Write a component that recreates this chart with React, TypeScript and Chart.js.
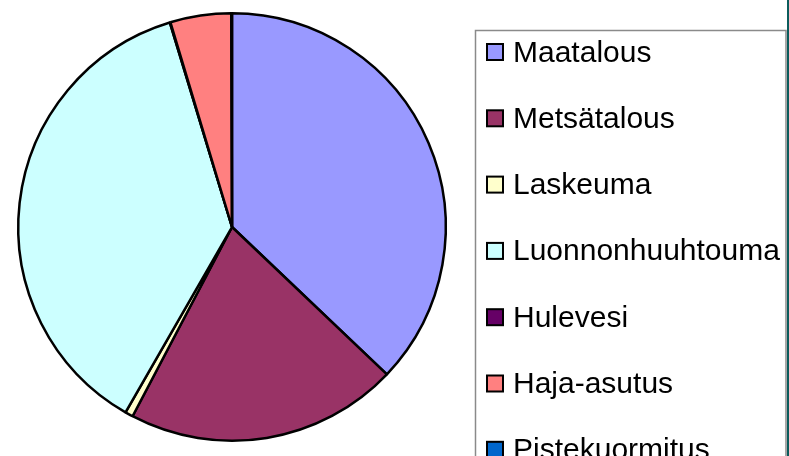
import React, { useEffect, useRef } from "react";
import { Chart, registerables } from "chart.js";

Chart.register(...registerables);

const categories = [
  "Maatalous",
  "Metsätalous",
  "Laskeuma",
  "Luonnonhuuhtouma",
  "Hulevesi",
  "Haja-asutus",
  "Pistekuormitus",
];
const shares = [37.1, 20.6, 0.6, 37.0, 0.05, 4.6, 0.05];
const colors = ["#9999FF", "#993366", "#FFFFCC", "#CCFFFF", "#660066", "#FF8080", "#0066CC"];

const legendPlugin = {
  id: "boxLegend",
  afterDraw(chart: any) {
    const ctx = chart.ctx as CanvasRenderingContext2D;
    const labels = chart.data.labels as string[];
    const bg = chart.data.datasets[0].backgroundColor as string[];
    ctx.save();
    ctx.strokeStyle = "#8a8a8a";
    ctx.lineWidth = 1.5;
    ctx.beginPath();
    ctx.moveTo(475.5, 470);
    ctx.lineTo(475.5, 30.5);
    ctx.lineTo(786, 30.5);
    ctx.lineTo(786, 470);
    ctx.stroke();
    ctx.strokeStyle = "#0b5c5c";
    ctx.lineWidth = 2;
    ctx.beginPath();
    ctx.moveTo(788, 0);
    ctx.lineTo(788, 456);
    ctx.stroke();

    ctx.font = '30px "Liberation Sans", Arial, sans-serif';
    ctx.textBaseline = "alphabetic";
    ctx.textAlign = "left";
    labels.forEach((lab, i) => {
      const base = 61.5 + i * 66.3;
      ctx.fillStyle = bg[i];
      ctx.fillRect(487, base - 17.5, 16, 16);
      ctx.strokeStyle = "#000";
      ctx.lineWidth = 2;
      ctx.strokeRect(487, base - 17.5, 16, 16);
      ctx.fillStyle = "#000";
      ctx.fillText(lab, 513, base);
    });
    ctx.restore();
  },
};

export default function App() {
  const ref = useRef<HTMLCanvasElement>(null);
  useEffect(() => {
    if (!ref.current) return;
    const chart = new Chart(ref.current, {
      type: "pie",
      data: {
        labels: categories,
        datasets: [
          {
            data: shares,
            backgroundColor: colors,
            borderColor: "#000",
            borderWidth: 2.5,
          },
        ],
      },
      options: {
        responsive: false,
        animation: false,
        devicePixelRatio: 1,
        layout: { padding: { left: 17, top: 12, right: 342, bottom: 14 } },
        plugins: {
          legend: { display: false },
          tooltip: { enabled: false },
          title: { display: false },
        },
      },
      plugins: [legendPlugin],
    });
    return () => chart.destroy();
  }, []);
  return (
    <div style={{ position: "fixed", left: 0, top: 0, width: 789, height: 456, background: "#fff" }}>
      <canvas ref={ref} width={789} height={456} />
    </div>
  );
}
